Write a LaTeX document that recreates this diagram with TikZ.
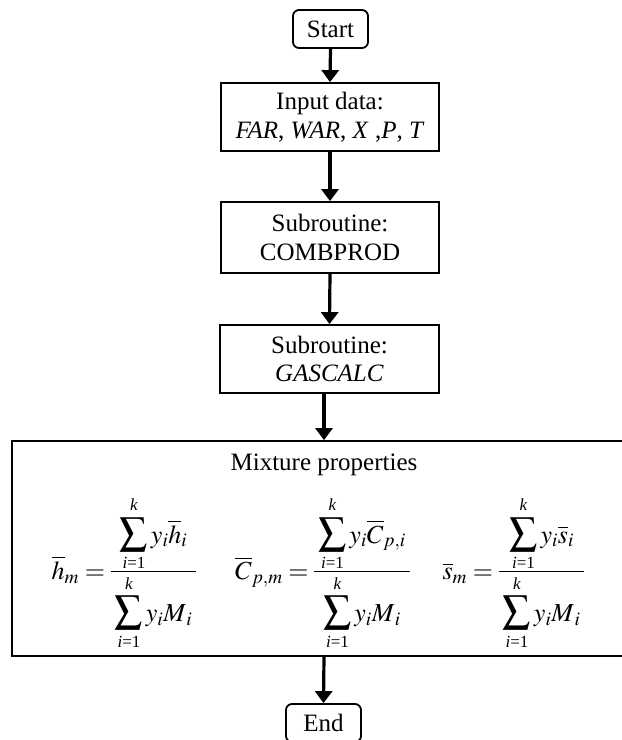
\documentclass[tikz,border=0pt]{standalone}
\usepackage{mathptmx}
\usepackage{fontspec}
\setmainfont{Liberation Serif}
\usetikzlibrary{arrows.meta}
\newcommand\limtxt[1]{\hbox{\fontsize{17}{17}\selectfont #1}}
\newcommand\sumst{\raise3pt\hbox{$\vcenter{\offinterlineskip\halign{\hfil##\hfil\cr\limtxt{\textit{k}}\cr\noalign{\kern7pt}\resizebox*{!}{34pt}{$\displaystyle\sum$}\cr\noalign{\kern6pt}\limtxt{\textit{i}=1}\cr}}$}}
\newcommand\myfrac[2]{\vcenter{\offinterlineskip\halign{\hfil\kern4pt##\kern4pt\hfil\cr\hbox{$\displaystyle #1$}\cr\noalign{\kern2pt\hrule height 0.8pt\kern6pt}\hbox{$\displaystyle #2$}\cr}}}
\begin{document}
\begin{tikzpicture}[x=1pt,y=-1pt,
  box/.style={draw,line width=1.8pt,inner sep=0pt,align=center},
  term/.style={box,rounded corners=6pt},
  arr/.style={line width=3.2pt,-{Triangle[width=17pt,length=12pt]}},
  eq/.style={font=\fontsize{26}{30}\selectfont},
  font=\fontsize{25}{28.5}\selectfont]
\useasboundingbox (0,0) rectangle (622,740);
\node[term, minimum width=75pt, minimum height=38pt] (start) at (330.5,29) {Start};
\node[box, minimum width=218pt, minimum height=68pt] (input) at (330,117)
  {Input data:\\\textit{FAR}, \textit{WAR}, \textit{X} ,\textit{P}, \textit{T}};
\node[box, minimum width=218pt, minimum height=71pt] (comb) at (330,237.5)
  {Subroutine:\\COMBPROD};
\node[box, minimum width=219pt, minimum height=68pt] (gas) at (329.5,359)
  {Subroutine:\\\textit{GASCALC}};
\node[box, minimum width=624pt, minimum height=215pt] (mix) at (324,548.5) {};
\node (mixt) at (324,465) {Mixture properties};
\node[eq] (eqa) at (124,573) {$\overline{h}_m=\myfrac{\sumst\, y_i\overline{h}_i}{\sumst\, y_i M_{\,i}}$};
\node[eq] (eqb) at (322.5,573) {$\overline{C}_{p,m}=\myfrac{\sumst\, y_i\overline{C}_{p,i}}{\sumst\, y_i M_{\,i}}$};
\node[eq] (eqc) at (513.5,573) {$\overline{s}_m=\myfrac{\sumst\, y_i\overline{s}_i}{\sumst\, y_i M_{\,i}}$};
\node[term, minimum width=75pt, minimum height=38pt] (end) at (323.5,723) {End};
\draw[arr] (start.south) -- (input.north);
\draw[arr] (input.south) -- (comb.north);
\draw[arr] (comb.south) -- (gas.north);
\draw[arr] (mix.north |- gas.south) -- (mix.north);
\draw[arr] (mix.south) -- (end.north);
\end{tikzpicture}
\end{document}
